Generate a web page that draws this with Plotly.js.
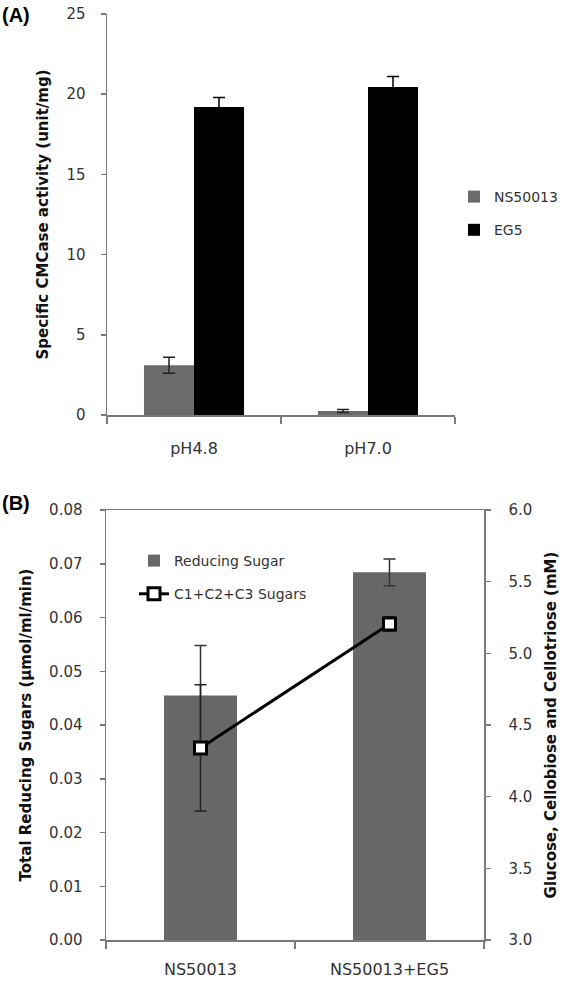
<!DOCTYPE html>
<html>
<head>
<meta charset="utf-8">
<script src="https://cdn.plot.ly/plotly-3.0.1.min.js"></script>
<style>html,body{margin:0;padding:0;background:#fff;}#chart{width:566px;height:982px;}</style>
</head>
<body>
<div id="chart"></div>
<script>
// Panel A data
const phCategories = ['pH4.8', 'pH7.0'];
const ns50013Activity = [3.1, 0.25];
const ns50013ActivityErr = [0.5, 0.1];
const eg5Activity = [19.2, 20.45];
const eg5ActivityErr = [0.6, 0.65];

// Panel B data
const enzymeCategories = ['NS50013', 'NS50013+EG5'];
const reducingSugar = [0.0455, 0.0684];
const reducingSugarErr = [0.0093, 0.0025];
const c123Sugars = [4.34, 5.205];
const c123SugarsErr = [0.44, 0.05];

const FT = 'DejaVu Sans, Arial, sans-serif';
const tickFont = {family: FT, size: 15, color: '#333'};
const xTickFont = {family: FT, size: 16, color: '#333'};
const titleFont = {family: FT, size: 15, color: '#111', weight: 'bold'};
const axisLine = '#7a7a7a';

const traces = [
  {type: 'bar', x: phCategories, y: ns50013Activity, name: 'NS50013',
   xaxis: 'x', yaxis: 'y', legend: 'legend', legendgroup: 'a1',
   marker: {color: '#6b6b6b'},
   error_y: {type: 'data', array: ns50013ActivityErr, color: '#222', thickness: 1.5, width: 6}},
  {type: 'bar', x: phCategories, y: eg5Activity, name: 'EG5',
   xaxis: 'x', yaxis: 'y', legend: 'legend', legendgroup: 'a2',
   marker: {color: '#000'},
   error_y: {type: 'data', array: eg5ActivityErr, color: '#000', thickness: 1.5, width: 6}},
  {type: 'bar', x: enzymeCategories, y: reducingSugar, name: 'Reducing Sugar',
   xaxis: 'x2', yaxis: 'y2', legend: 'legend2', legendgroup: 'b1', width: 0.386,
   marker: {color: '#676767'},
   error_y: {type: 'data', array: reducingSugarErr, color: '#333', thickness: 1.5, width: 6}},
  {type: 'scatter', mode: 'lines+markers', x: enzymeCategories, y: c123Sugars, name: 'C1+C2+C3 Sugars',
   xaxis: 'x2', yaxis: 'y3', legend: 'legend2', legendgroup: 'b2',
   line: {color: '#000', width: 3},
   marker: {symbol: 'square', size: 12, color: '#fff', line: {color: '#000', width: 3}},
   error_y: {type: 'data', array: c123SugarsErr, color: '#222', thickness: 1.5, width: 6}}
];

const layout = {
  width: 566, height: 982,
  margin: {l: 0, r: 0, t: 0, b: 0},
  paper_bgcolor: '#fff', plot_bgcolor: 'rgba(0,0,0,0)',
  barmode: 'group', bargap: 0.425, bargroupgap: 0,
  font: {family: FT, color: '#333'},
  xaxis: {domain: [107/566, 455/566], anchor: 'y', type: 'category',
    showline: true, linecolor: axisLine, linewidth: 1.5, ticks: 'outside', tickson: 'boundaries',
    ticklen: 7, tickcolor: axisLine, tickwidth: 1.5, tickfont: xTickFont, ticklabelstandoff: 18,
    showgrid: false},
  yaxis: {domain: [567/982, 968/982], anchor: 'x', range: [0, 25], dtick: 5,
    showline: true, linecolor: axisLine, linewidth: 1.5, ticks: 'outside', ticklen: 5,
    tickcolor: axisLine, tickwidth: 1.5, tickfont: tickFont, ticklabelstandoff: 12,
    showgrid: false, zeroline: false,
    title: {text: 'Specific CMCase activity (unit/mg)', font: titleFont, standoff: 14}},
  xaxis2: {domain: [106/566, 484/566], anchor: 'y2', type: 'category', mirror: true,
    showline: true, linecolor: axisLine, linewidth: 1.5, ticks: 'outside', tickson: 'boundaries',
    ticklen: 7, tickcolor: axisLine, tickwidth: 1.5, tickfont: xTickFont, ticklabelstandoff: 14,
    showgrid: false},
  yaxis2: {domain: [42/982, 472/982], anchor: 'x2', range: [0, 0.08], dtick: 0.01, tickformat: '.2f',
    showline: true, linecolor: axisLine, linewidth: 1.5, ticks: 'outside', ticklen: 5,
    tickcolor: axisLine, tickwidth: 1.5, tickfont: tickFont, ticklabelstandoff: 14,
    showgrid: false, zeroline: false,
    title: {text: 'Total Reducing Sugars (µmol/ml/min)', font: titleFont, standoff: 14}},
  yaxis3: {overlaying: 'y2', anchor: 'x2', side: 'right', range: [3, 6], dtick: 0.5, tickformat: '.1f',
    showline: true, linecolor: axisLine, linewidth: 1.5, ticks: 'outside', ticklen: 5,
    tickcolor: axisLine, tickwidth: 1.5, tickfont: tickFont, ticklabelstandoff: 15,
    showgrid: false, zeroline: false,
    title: {text: 'Glucose, Cellobiose and Cellotriose (mM)', font: titleFont, standoff: 14}},
  legend: {x: 454/566, y: (982-181)/982, xanchor: 'left', yanchor: 'top',
    font: {family: FT, size: 14, color: '#333'}, tracegroupgap: 12, bgcolor: 'rgba(0,0,0,0)'},
  legend2: {x: 134/566, y: (982-545)/982, xanchor: 'left', yanchor: 'top',
    font: {family: FT, size: 14, color: '#333'}, tracegroupgap: 12, bgcolor: 'rgba(0,0,0,0)'},
  showlegend: true,
  annotations: [
    {text: '(A)', xref: 'paper', yref: 'paper', x: 0, y: 1 - 2/982, xanchor: 'left', yanchor: 'top',
     showarrow: false, font: {family: 'Liberation Sans, Arial, sans-serif', size: 20, color: '#000', weight: 'bold'}},
    {text: '(B)', xref: 'paper', yref: 'paper', x: 0, y: 1 - 490/982, xanchor: 'left', yanchor: 'top',
     showarrow: false, font: {family: 'Liberation Sans, Arial, sans-serif', size: 20, color: '#000', weight: 'bold'}}
  ]
};

Plotly.newPlot('chart', traces, layout, {displayModeBar: false, staticPlot: true});
</script>
</body>
</html>
